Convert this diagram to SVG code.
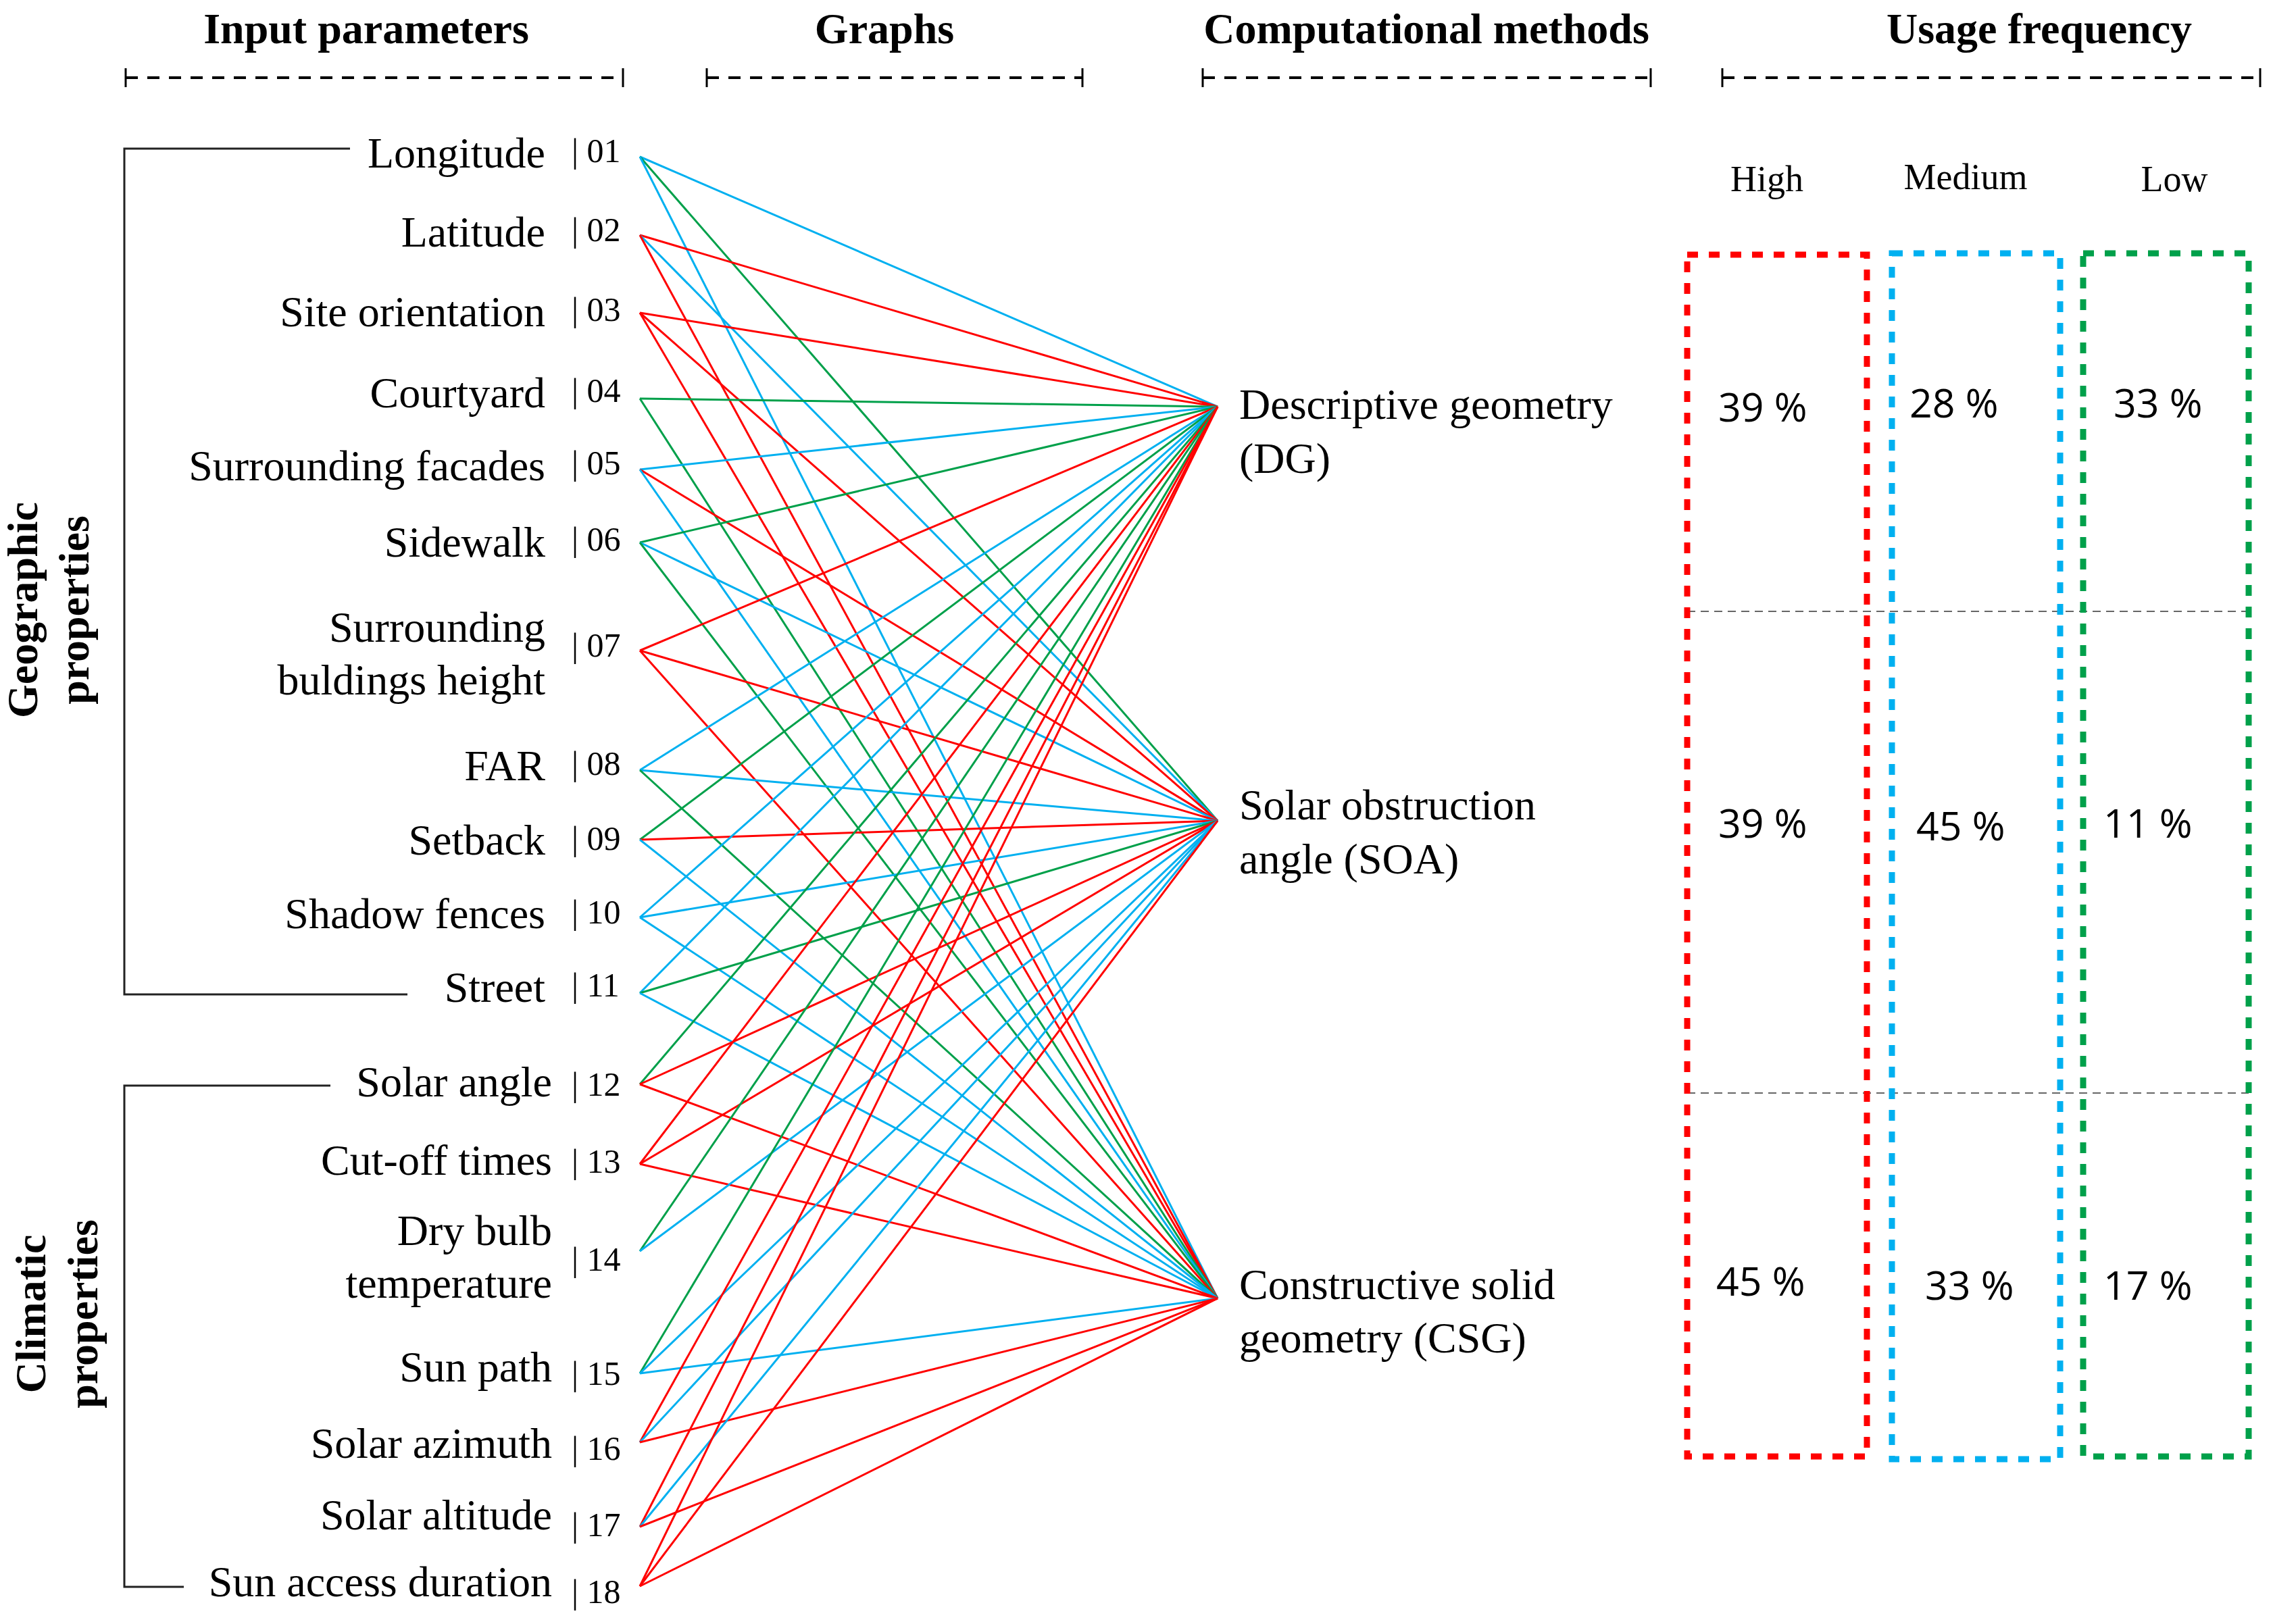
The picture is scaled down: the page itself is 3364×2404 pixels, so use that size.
<svg xmlns="http://www.w3.org/2000/svg" width="3364" height="2404" viewBox="0 0 3364 2404">
<style>
.hdr{font-family:"Liberation Serif","Times New Roman",serif;font-weight:bold;font-size:64px;fill:#000;text-anchor:middle}
.lbl{font-family:"Liberation Serif","Times New Roman",serif;font-size:64px;fill:#000;text-anchor:end}
.num{font-family:"Liberation Serif","Times New Roman",serif;font-size:50px;fill:#000}
.mth{font-family:"Liberation Serif","Times New Roman",serif;font-size:64px;fill:#000}
.lvl{font-family:"Liberation Serif","Times New Roman",serif;font-size:54px;fill:#000;text-anchor:middle}
.pct{font-family:"Open Sans","Liberation Sans",sans-serif;font-size:59px;fill:#000}
.rule{stroke:#000;stroke-width:4;stroke-dasharray:18 14;fill:none}
.tick{stroke:#000;stroke-width:3}
.brk{stroke:#222;stroke-width:3;fill:none}
.r{stroke:#FF0000}
.b{stroke:#00B0F0}
.g{stroke:#00A04A}
#connectors line{stroke-width:3}
.box{fill:none;stroke-width:9;stroke-dasharray:16 16}
.sep{stroke:#666;stroke-width:2;stroke-dasharray:12 8}
</style>

<!-- Column headers -->
<g id="headers">
<text class="hdr" x="542" y="64">Input parameters</text>
<text class="hdr" x="1309" y="64">Graphs</text>
<text class="hdr" x="2111" y="64">Computational methods</text>
<text class="hdr" x="3018" y="64">Usage frequency</text>
<line class="rule" x1="186" y1="115" x2="922" y2="115"/>
<line class="tick" x1="186" y1="101" x2="186" y2="129"/><line class="tick" x1="922" y1="101" x2="922" y2="129"/>
<line class="rule" x1="1046" y1="115" x2="1602" y2="115"/>
<line class="tick" x1="1046" y1="101" x2="1046" y2="129"/><line class="tick" x1="1602" y1="101" x2="1602" y2="129"/>
<line class="rule" x1="1780" y1="115" x2="2443" y2="115"/>
<line class="tick" x1="1780" y1="101" x2="1780" y2="129"/><line class="tick" x1="2443" y1="101" x2="2443" y2="129"/>
<line class="rule" x1="2549" y1="115" x2="3345" y2="115"/>
<line class="tick" x1="2549" y1="101" x2="2549" y2="129"/><line class="tick" x1="3345" y1="101" x2="3345" y2="129"/>
</g>

<!-- Group brackets -->
<g id="group-geographic">
<path class="brk" d="M518 220 H184 V1472 H603"/>
<text class="hdr" transform="translate(55,903) rotate(-90)" x="0" y="0">Geographic</text>
<text class="hdr" transform="translate(131,903) rotate(-90)" x="0" y="0">properties</text>
</g>
<g id="group-climatic">
<path class="brk" d="M489 1607 H184 V2349 H272"/>
<text class="hdr" transform="translate(67,1945) rotate(-90)" x="0" y="0">Climatic</text>
<text class="hdr" transform="translate(144,1945) rotate(-90)" x="0" y="0">properties</text>
</g>

<!-- Connectors -->
<g id="connectors">
<line class="b" x1="947" y1="232" x2="1802" y2="602"/>
<line class="g" x1="947" y1="232" x2="1802" y2="1215"/>
<line class="b" x1="947" y1="232" x2="1802" y2="1922"/>
<line class="r" x1="947" y1="348" x2="1802" y2="602"/>
<line class="b" x1="947" y1="348" x2="1802" y2="1215"/>
<line class="r" x1="947" y1="348" x2="1802" y2="1922"/>
<line class="r" x1="947" y1="463" x2="1802" y2="602"/>
<line class="r" x1="947" y1="463" x2="1802" y2="1215"/>
<line class="r" x1="947" y1="463" x2="1802" y2="1922"/>
<line class="g" x1="947" y1="590" x2="1802" y2="602"/>
<line class="g" x1="947" y1="590" x2="1802" y2="1922"/>
<line class="b" x1="947" y1="695" x2="1802" y2="602"/>
<line class="r" x1="947" y1="695" x2="1802" y2="1215"/>
<line class="b" x1="947" y1="695" x2="1802" y2="1922"/>
<line class="g" x1="947" y1="803" x2="1802" y2="602"/>
<line class="b" x1="947" y1="803" x2="1802" y2="1215"/>
<line class="g" x1="947" y1="803" x2="1802" y2="1922"/>
<line class="r" x1="947" y1="963" x2="1802" y2="602"/>
<line class="r" x1="947" y1="963" x2="1802" y2="1215"/>
<line class="r" x1="947" y1="963" x2="1802" y2="1922"/>
<line class="b" x1="947" y1="1140" x2="1802" y2="602"/>
<line class="b" x1="947" y1="1140" x2="1802" y2="1215"/>
<line class="g" x1="947" y1="1140" x2="1802" y2="1922"/>
<line class="g" x1="947" y1="1243" x2="1802" y2="602"/>
<line class="r" x1="947" y1="1243" x2="1802" y2="1215"/>
<line class="b" x1="947" y1="1243" x2="1802" y2="1922"/>
<line class="b" x1="947" y1="1358" x2="1802" y2="602"/>
<line class="b" x1="947" y1="1358" x2="1802" y2="1215"/>
<line class="b" x1="947" y1="1358" x2="1802" y2="1922"/>
<line class="b" x1="947" y1="1470" x2="1802" y2="602"/>
<line class="g" x1="947" y1="1470" x2="1802" y2="1215"/>
<line class="b" x1="947" y1="1470" x2="1802" y2="1922"/>
<line class="g" x1="947" y1="1605" x2="1802" y2="602"/>
<line class="r" x1="947" y1="1605" x2="1802" y2="1215"/>
<line class="r" x1="947" y1="1605" x2="1802" y2="1922"/>
<line class="r" x1="947" y1="1723" x2="1802" y2="602"/>
<line class="r" x1="947" y1="1723" x2="1802" y2="1215"/>
<line class="r" x1="947" y1="1723" x2="1802" y2="1922"/>
<line class="g" x1="947" y1="1852" x2="1802" y2="602"/>
<line class="b" x1="947" y1="1852" x2="1802" y2="1215"/>
<line class="g" x1="947" y1="2033" x2="1802" y2="602"/>
<line class="b" x1="947" y1="2033" x2="1802" y2="1215"/>
<line class="b" x1="947" y1="2033" x2="1802" y2="1922"/>
<line class="r" x1="947" y1="2135" x2="1802" y2="602"/>
<line class="b" x1="947" y1="2135" x2="1802" y2="1215"/>
<line class="r" x1="947" y1="2135" x2="1802" y2="1922"/>
<line class="r" x1="947" y1="2260" x2="1802" y2="602"/>
<line class="b" x1="947" y1="2260" x2="1802" y2="1215"/>
<line class="r" x1="947" y1="2260" x2="1802" y2="1922"/>
<line class="r" x1="947" y1="2348" x2="1802" y2="602"/>
<line class="r" x1="947" y1="2348" x2="1802" y2="1215"/>
<line class="r" x1="947" y1="2348" x2="1802" y2="1922"/>
</g>

<!-- Input parameter nodes -->
<g id="p01"><text class="lbl" x="807" y="248">Longitude</text><text class="num" x="846" y="240">| 01</text></g>
<g id="p02"><text class="lbl" x="807" y="365">Latitude</text><text class="num" x="846" y="357">| 02</text></g>
<g id="p03"><text class="lbl" x="807" y="483">Site orientation</text><text class="num" x="846" y="475">| 03</text></g>
<g id="p04"><text class="lbl" x="807" y="603">Courtyard</text><text class="num" x="846" y="595">| 04</text></g>
<g id="p05"><text class="lbl" x="807" y="711">Surrounding facades</text><text class="num" x="846" y="702">| 05</text></g>
<g id="p06"><text class="lbl" x="807" y="824">Sidewalk</text><text class="num" x="846" y="815">| 06</text></g>
<g id="p07"><text class="lbl" x="807" y="950">Surrounding</text><text class="lbl" x="807" y="1028">buldings height</text><text class="num" x="846" y="972">| 07</text></g>
<g id="p08"><text class="lbl" x="807" y="1155">FAR</text><text class="num" x="846" y="1147">| 08</text></g>
<g id="p09"><text class="lbl" x="807" y="1265">Setback</text><text class="num" x="846" y="1258">| 09</text></g>
<g id="p10"><text class="lbl" x="807" y="1374">Shadow fences</text><text class="num" x="846" y="1367">| 10</text></g>
<g id="p11"><text class="lbl" x="807" y="1483">Street</text><text class="num" x="846" y="1475">| 11</text></g>
<g id="p12"><text class="lbl" x="817" y="1623">Solar angle</text><text class="num" x="846" y="1622">| 12</text></g>
<g id="p13"><text class="lbl" x="817" y="1739">Cut-off times</text><text class="num" x="846" y="1736">| 13</text></g>
<g id="p14"><text class="lbl" x="817" y="1843">Dry bulb</text><text class="lbl" x="817" y="1921">temperature</text><text class="num" x="846" y="1881">| 14</text></g>
<g id="p15"><text class="lbl" x="817" y="2045">Sun path</text><text class="num" x="846" y="2050">| 15</text></g>
<g id="p16"><text class="lbl" x="817" y="2158">Solar azimuth</text><text class="num" x="846" y="2161">| 16</text></g>
<g id="p17"><text class="lbl" x="817" y="2264">Solar altitude</text><text class="num" x="846" y="2274">| 17</text></g>
<g id="p18"><text class="lbl" x="817" y="2363">Sun access duration</text><text class="num" x="846" y="2373">| 18</text></g>

<!-- Computational methods -->
<g id="m-dg"><text class="mth" x="1834" y="620">Descriptive geometry</text><text class="mth" x="1834" y="700">(DG)</text></g>
<g id="m-soa"><text class="mth" x="1834" y="1213">Solar obstruction</text><text class="mth" x="1834" y="1293">angle (SOA)</text></g>
<g id="m-csg"><text class="mth" x="1834" y="1923">Constructive solid</text><text class="mth" x="1834" y="2002">geometry (CSG)</text></g>

<!-- Usage frequency -->
<g id="separators">
<line class="sep" x1="2497" y1="905" x2="3328" y2="905"/>
<line class="sep" x1="2497" y1="1618" x2="3328" y2="1618"/>
</g>
<g id="f-high">
<text class="lvl" x="2615" y="283">High</text>
<rect class="box r" x="2497" y="377" width="266" height="1779"/>
<text class="pct" x="2543" y="624">39 %</text>
<text class="pct" x="2543" y="1240">39 %</text>
<text class="pct" x="2540" y="1918">45 %</text>
</g>
<g id="f-medium">
<text class="lvl" x="2909" y="280">Medium</text>
<rect class="box b" x="2800" y="375" width="249" height="1785"/>
<text class="pct" x="2826" y="618">28 %</text>
<text class="pct" x="2836" y="1244">45 %</text>
<text class="pct" x="2849" y="1924">33 %</text>
</g>
<g id="f-low">
<text class="lvl" x="3218" y="283">Low</text>
<rect class="box g" x="3083" y="375" width="245" height="1781"/>
<text class="pct" x="3128" y="618">33 %</text>
<text class="pct" x="3113" y="1240">11 %</text>
<text class="pct" x="3113" y="1924">17 %</text>
</g>
</svg>
